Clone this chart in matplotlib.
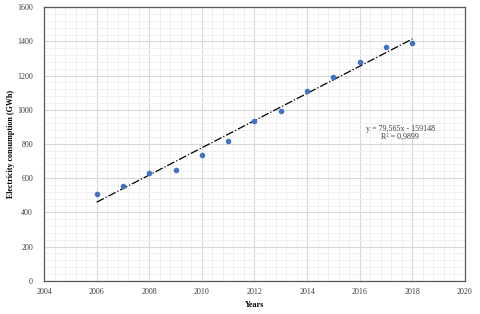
import numpy as np
import matplotlib
matplotlib.use('Agg')
import matplotlib.pyplot as plt
from matplotlib.ticker import MultipleLocator

years = [2006, 2007, 2008, 2009, 2010, 2011, 2012, 2013, 2014, 2015, 2016, 2017, 2018]
consumption = [509, 556, 630, 650, 735, 817, 934, 991, 1112, 1192, 1278, 1369, 1393]
slope = 79.565
intercept = -159148
eq_text = "y = 79,565x - 159148"
r2_text = "R² = 0,9899"

plt.rcParams['font.family'] = ['Liberation Serif', 'DejaVu Serif']

fig = plt.figure(figsize=(4.8, 3.14), dpi=100)
ax = fig.add_axes([0.0917, 0.106, 0.877, 0.871])

ax.set_xlim(2004, 2020)
ax.set_ylim(0, 1600)
ax.xaxis.set_major_locator(MultipleLocator(2))
ax.xaxis.set_minor_locator(MultipleLocator(0.4))
ax.yaxis.set_major_locator(MultipleLocator(200))
ax.yaxis.set_minor_locator(MultipleLocator(40))
ax.grid(which='major', color='#d9d9d9', linewidth=0.8)
ax.grid(which='minor', color='#efefef', linewidth=0.6)
ax.set_axisbelow(True)
ax.tick_params(which='both', length=0, labelsize=5.8, colors='#404040')
ax.tick_params(axis='y', pad=8)
ax.tick_params(axis='x', pad=5)
for s in ax.spines.values():
    s.set_color('#595959')
    s.set_linewidth(0.9)

xfit = np.array([years[0], years[-1]])
ax.plot(xfit, slope * xfit + intercept, color='black', linestyle='-.', linewidth=0.9, zorder=2)
ax.plot(years, consumption, 'o', color='#4472C4', markersize=3, zorder=3)

ax.text(0.846, 0.54, eq_text + "\n" + r2_text, transform=ax.transAxes, fontsize=5.8,
        ha='center', va='center', color='#404040', linespacing=1.05)

ax.set_xlabel("Years", fontsize=5.8, fontweight='bold')
ax.xaxis.set_label_coords(0.477, -0.074)
ax.xaxis.label.set_horizontalalignment('left')
ax.set_ylabel("Electricity consumption (GWh)", fontsize=5.8, fontweight='bold')
ax.yaxis.set_label_coords(-0.069, 0.5)

fig.savefig('out.png', dpi=100)
